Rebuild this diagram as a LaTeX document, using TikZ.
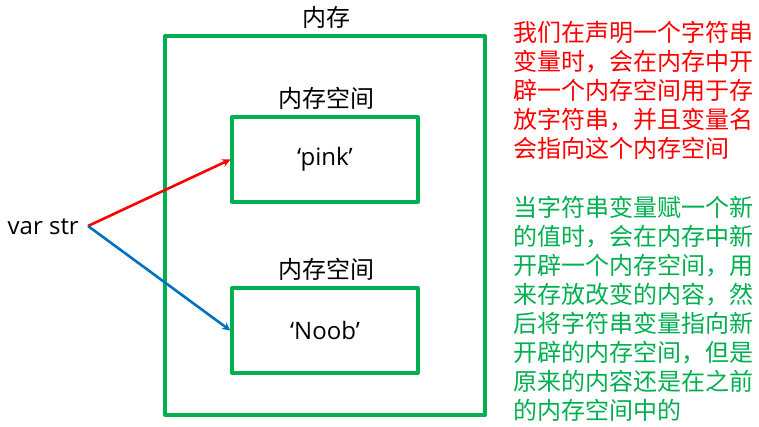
\documentclass[tikz,border=0pt]{standalone}
\usepackage{fontspec}
\setmainfont{Open Sans}
\newfontfamily\cjk{Noto Sans CJK SC}
\definecolor{boxgreen}{HTML}{00B050}
\definecolor{arrowblue}{HTML}{0070C0}
\begin{document}
\begin{tikzpicture}[x=1pt, y=-1pt, line join=round, >=stealth, font=\fontsize{24}{29}\selectfont,
		membox/.style={draw=boxgreen, line width=3.3pt, inner sep=0pt},
		cell/.style={membox, minimum width=186pt, minimum height=85pt},
		note/.style={anchor=north west, inner sep=0pt, align=left, font=\cjk\fontsize{24}{29}\selectfont}]
	\useasboundingbox (0,0) rectangle (759,427);
	\node[membox, minimum width=320pt, minimum height=379pt] (mem) at (325,225.5) {};
	\node (memlabel) at (326,17) {\cjk 内存};
	\node[cell] (pink) at (325,159.5) {‘pink’};
	\node (pinklabel) at (326,98) {\cjk 内存空间};
	\node[cell] (noob) at (325,330.5) {‘Noob’};
	\node (nooblabel) at (326,269) {\cjk 内存空间};
	\node[anchor=east, inner sep=0pt] (str) at (79,227) {var str};
	\coordinate (src) at (88,226);
	\draw[->, red, line width=2.6pt] (src)--(pink.west);
	\draw[->, arrowblue, line width=2.6pt] (src)--(noob.west);
	\node[note, text=red] (oldnote) at (513,21) {我们在声明一个字符串\\变量时，会在内存中开\\辟一个内存空间用于存\\放字符串，并且变量名\\会指向这个内存空间};
	\node[note, text=boxgreen] (newnote) at (513,196) {当字符串变量赋一个新\\的值时，会在内存中新\\开辟一个内存空间，用\\来存放改变的内容，然\\后将字符串变量指向新\\开辟的内存空间，但是\\原来的内容还是在之前\\的内存空间中的};
\end{tikzpicture}
\end{document}
